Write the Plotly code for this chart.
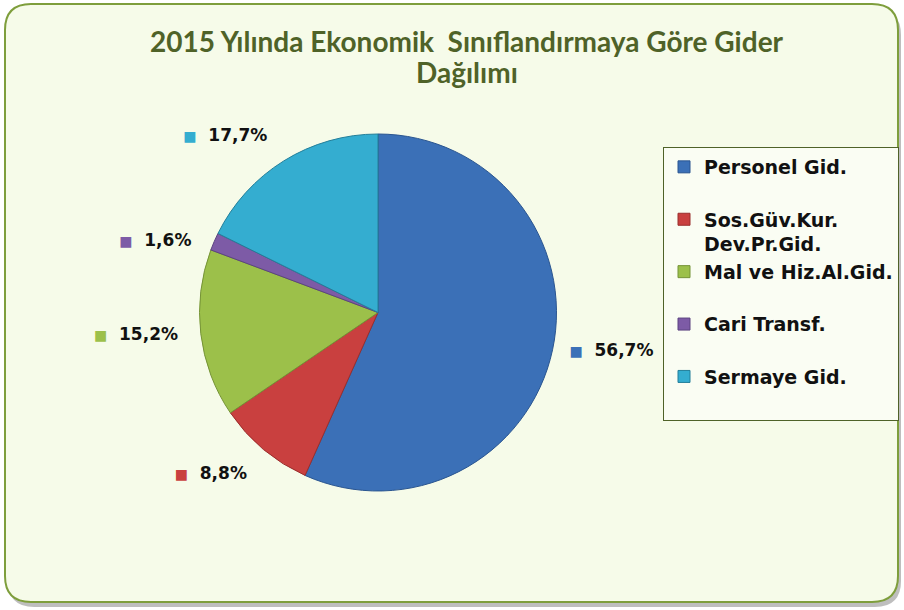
import plotly.graph_objects as go

categories = ["Personel Gid.", "Sos.Güv.Kur.<br>Dev.Pr.Gid.", "Mal ve Hiz.Al.Gid.", "Cari Transf.", "Sermaye Gid."]
values = [56.7, 8.8, 15.2, 1.6, 17.7]
colors = ["#3B70B7", "#C9403F", "#9CC04A", "#7D5BA6", "#34ADD0"]
edge_colors = ["#2A5590", "#9A2E2D", "#759336", "#5C4380", "#237F9A"]
title_lines = ["2015 Yılında Ekonomik  Sınıflandırmaya Göre Gider", "Dağılımı"]

W, H = 904, 610

legend_labels = [c if "<br>" in c else c + "<br> " for c in categories]

sq = "<span style='color:%{customdata};font-size:14px'>■</span>  %{percent:.1%}"
templates = [
    "  " + sq,                  # right side label pushed outward
    "\u00a0<br>" + sq + " ",    # lower-left
    sq + "   ",                 # left
    sq + "   ",                 # left
    sq + " <br> ",              # upper-left
]

fig = go.Figure()
fig.add_trace(go.Pie(
    labels=legend_labels,
    values=values,
    sort=False,
    direction="clockwise",
    rotation=0,
    marker=dict(colors=colors, line=dict(color=edge_colors, width=1)),
    customdata=colors,
    textposition="outside",
    texttemplate=templates,
    textfont=dict(family="DejaVu Sans", size=17, color="#111111", weight="bold"),
    domain=dict(x=[196 / W, 560 / W], y=[(H - 491) / H, (H - 134) / H]),
    hoverinfo="label+percent",
))

def rrect(x0, y0, x1, y1, r):
    def P(x, y):
        return f"{x / W:.5f},{(H - y) / H:.5f}"
    return (f"M {P(x0 + r, y0)} L {P(x1 - r, y0)} Q {P(x1, y0)} {P(x1, y0 + r)} "
            f"L {P(x1, y1 - r)} Q {P(x1, y1)} {P(x1 - r, y1)} L {P(x0 + r, y1)} "
            f"Q {P(x0, y1)} {P(x0, y1 - r)} L {P(x0, y0 + r)} Q {P(x0, y0)} {P(x0 + r, y0)} Z")

shapes = [
    dict(type="path", xref="paper", yref="paper", path=rrect(8, 9, 901, 607, 26),
         fillcolor="rgba(110,110,110,0.45)", line=dict(width=0), layer="below"),
    dict(type="path", xref="paper", yref="paper", path=rrect(5, 4, 898, 602, 26),
         fillcolor="#F6FBE9", line=dict(color="#7E9E3C", width=2), layer="below"),
]

title_font = dict(family="Lato", size=28, color="#4F6228", weight="bold")
annotations = [
    dict(text=title_lines[0], xref="paper", yref="paper", x=467 / W, y=1 - 41 / H,
         xanchor="center", yanchor="middle", showarrow=False, font=title_font),
    dict(text=title_lines[1], xref="paper", yref="paper", x=467 / W, y=1 - 72 / H,
         xanchor="center", yanchor="middle", showarrow=False, font=title_font),
]

fig.update_layout(
    width=W, height=H,
    margin=dict(l=0, r=0, t=0, b=0),
    paper_bgcolor="white",
    plot_bgcolor="rgba(0,0,0,0)",
    separators=",.",
    shapes=shapes,
    annotations=annotations,
    showlegend=True,
    legend=dict(
        x=663 / W, y=(H - 147) / H, xanchor="left", yanchor="top",
        bgcolor="#FAFDF3", bordercolor="#4F6228", borderwidth=1,
        font=dict(family="DejaVu Sans", size=19, color="#111111", weight="bold"),
        valign="top", traceorder="normal",
    ),
)

fig.write_html("out.html", config={"displayModeBar": False})

with open("out.html", "r", encoding="utf-8") as f:
    html = f.read()
html = html.replace("<head>", "<head><style>html,body{margin:0;padding:0;overflow:hidden;}</style>", 1)
with open("out.html", "w", encoding="utf-8") as f:
    f.write(html)
